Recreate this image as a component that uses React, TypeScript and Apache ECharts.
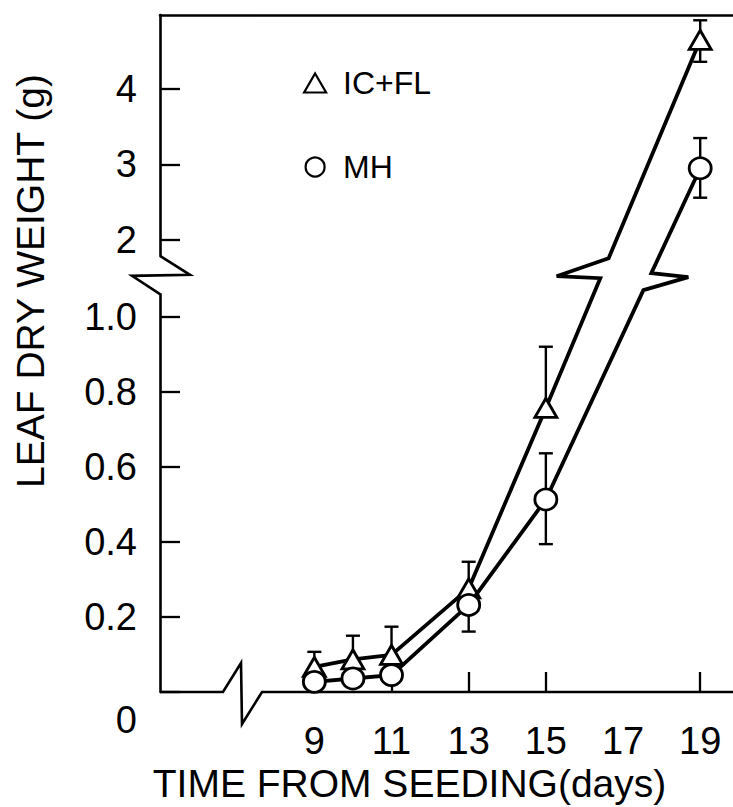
import React, { useEffect, useRef } from 'react';
import * as echarts from 'echarts';

// ---- data ----
const days = [9, 10, 11, 13, 15, 19];
const seriesNames = ['IC+FL', 'MH'];
const icflMean = [0.067, 0.087, 0.099, 0.276, 0.757, 4.65];
const icflUpper = [0.107, 0.15, 0.174, 0.347, 0.92, 4.91];
const icflLower = [null, null, null, null, null, 4.36];
const mhMean = [0.027, 0.036, 0.045, 0.232, 0.513, 2.95];
const mhUpper = [null, null, null, null, 0.636, 3.35];
const mhLower = [null, null, null, 0.161, 0.394, 2.56];
const xLabelValues = [9, 11, 13, 15, 17, 19];
const xTickValues = [9, 11, 13, 15, 19];
const lowerYTicks = [0, 0.2, 0.4, 0.6, 0.8, 1.0];
const upperYTicks = [2, 3, 4];

// ---- axis ranges ----
const X_MIN = 5;
const X_MAX = 19.85;
const LOW_MIN = 0;
const LOW_MAX = 1.06;
const UP_MIN = 1.79;
const UP_MAX = 4.98;

const FONT = '"Liberation Sans", Arial, sans-serif';
const INK = '#000';

type Num = number | null;

function points(mean: number[], lo: number, hi: number) {
  return days.map((d, i) => [d, mean[i]]).filter((p) => p[1] >= lo && p[1] <= hi);
}

function bars(mean: number[], lower: Num[], upper: Num[], lo: number, hi: number) {
  const out: number[][] = [];
  days.forEach((d, i) => {
    if (mean[i] < lo || mean[i] > hi) return;
    if (lower[i] == null && upper[i] == null) return;
    const from = lower[i] == null ? mean[i] : (lower[i] as number);
    const to = upper[i] == null ? mean[i] : (upper[i] as number);
    out.push([d, from, to, lower[i] == null ? 0 : 1, upper[i] == null ? 0 : 1]);
  });
  return out;
}

function errorRender(params: any, api: any) {
  const x = api.value(0);
  const a = api.coord([x, api.value(1)]);
  const b = api.coord([x, api.value(2)]);
  const cw = 7;
  const st = { stroke: INK, lineWidth: 2.4 };
  const children: any[] = [
    { type: 'line', shape: { x1: a[0], y1: a[1], x2: b[0], y2: b[1] }, style: st },
  ];
  if (api.value(3)) children.push({ type: 'line', shape: { x1: a[0] - cw, y1: a[1], x2: a[0] + cw, y2: a[1] }, style: st });
  if (api.value(4)) children.push({ type: 'line', shape: { x1: b[0] - cw, y1: b[1], x2: b[0] + cw, y2: b[1] }, style: st });
  return { type: 'group', children };
}

const tickLabelStyle = { color: INK, fontSize: 38, fontFamily: FONT };

export default function App() {
  const ref = useRef<HTMLDivElement>(null);

  useEffect(() => {
    if (!ref.current) return;
    const chart = echarts.init(ref.current, null, { renderer: 'svg' });

    const lineCommon = (name: string, symbol: string, size: any, z: number) => ({
      name,
      type: 'line',
      symbol,
      symbolSize: size,
      showSymbol: true,
      lineStyle: { color: INK, width: 3.8 },
      itemStyle: { color: '#fff', borderColor: INK, borderWidth: 2.8 },
      z,
      emphasis: { disabled: true },
    });

    const option: any = {
      animation: false,
      backgroundColor: '#fff',
      grid: [
        { left: 160, right: 0, top: 15, height: (UP_MAX - UP_MIN) * 75.5, outerBoundsMode: 'none' },
        { left: 160, right: 0, top: 692 - LOW_MAX * 375.3, height: LOW_MAX * 375.3, outerBoundsMode: 'none' },
      ],
      xAxis: [
        {
          gridIndex: 0, type: 'value', position: 'top', min: X_MIN, max: X_MAX,
          axisLine: { show: true, lineStyle: { color: INK, width: 2.6 } },
          axisTick: { show: false }, axisLabel: { show: false }, splitLine: { show: false },
        },
        {
          gridIndex: 1, type: 'value', min: X_MIN, max: X_MAX,
          axisLine: { show: false },
          axisTick: { show: true, inside: true, length: 20, customValues: xTickValues, lineStyle: { color: INK, width: 2.3 } },
          axisLabel: { show: true, customValues: xLabelValues, margin: 30, formatter: (v: number) => String(v), ...tickLabelStyle },
          splitLine: { show: false },
          name: 'TIME FROM SEEDING(days)',
          nameLocation: 'middle',
          nameGap: 72,
          nameTextStyle: { color: INK, fontSize: 39, fontFamily: FONT, padding: [0, 74, 0, 0] },
        },
      ],
      yAxis: [
        {
          gridIndex: 0, type: 'value', min: UP_MIN, max: UP_MAX,
          axisLine: { show: true, lineStyle: { color: INK, width: 2.6 } },
          axisTick: { show: true, inside: true, length: 20, customValues: upperYTicks, lineStyle: { color: INK, width: 2.3 } },
          axisLabel: { show: true, customValues: upperYTicks, margin: 23, formatter: (v: number) => String(v), ...tickLabelStyle },
          splitLine: { show: false },
        },
        {
          gridIndex: 1, type: 'value', min: LOW_MIN, max: LOW_MAX,
          axisLine: { show: true, lineStyle: { color: INK, width: 2.6 } },
          axisTick: { show: true, inside: true, length: 20, customValues: lowerYTicks, lineStyle: { color: INK, width: 2.3 } },
          axisLabel: {
            show: true, customValues: lowerYTicks, margin: 23,
            formatter: (v: number) => (v === 0 ? '{z|0}' : v.toFixed(1)),
            ...tickLabelStyle,
            rich: { z: { ...tickLabelStyle, padding: [56, 0, 0, 0] } },
          },
          splitLine: { show: false },
        },
      ],
      legend: {
        show: true,
        orient: 'vertical',
        left: 303,
        top: 67,
        padding: 0,
        itemGap: 52,
        itemWidth: 22,
        itemHeight: 19,
        selectedMode: false,
        data: [
          { name: seriesNames[0], icon: 'triangle' },
          { name: seriesNames[1], icon: 'circle' },
        ],
        itemStyle: { color: '#fff', borderColor: INK, borderWidth: 2.2 },
        textStyle: { color: INK, fontSize: 32, lineHeight: 32, fontFamily: FONT, padding: [0, 0, 0, 12] },
      },
      series: [
        {
          type: 'custom', xAxisIndex: 1, yAxisIndex: 1, z: 1, renderItem: errorRender,
          encode: { x: 0, y: [1, 2] },
          data: [...bars(icflMean, icflLower, icflUpper, LOW_MIN, LOW_MAX), ...bars(mhMean, mhLower, mhUpper, LOW_MIN, LOW_MAX)],
        },
        {
          type: 'custom', xAxisIndex: 0, yAxisIndex: 0, z: 1, renderItem: errorRender,
          encode: { x: 0, y: [1, 2] },
          data: [...bars(icflMean, icflLower, icflUpper, UP_MIN, UP_MAX), ...bars(mhMean, mhLower, mhUpper, UP_MIN, UP_MAX)],
        },
        { ...lineCommon(seriesNames[0], 'triangle', [22, 19], 3), xAxisIndex: 1, yAxisIndex: 1, data: points(icflMean, LOW_MIN, LOW_MAX) },
        { ...lineCommon(seriesNames[1], 'circle', [22, 21], 4), xAxisIndex: 1, yAxisIndex: 1, data: points(mhMean, LOW_MIN, LOW_MAX) },
        { ...lineCommon(seriesNames[0], 'triangle', [22, 19], 3), xAxisIndex: 0, yAxisIndex: 0, data: points(icflMean, UP_MIN, UP_MAX) },
        { ...lineCommon(seriesNames[1], 'circle', [22, 21], 4), xAxisIndex: 0, yAxisIndex: 0, data: points(mhMean, UP_MIN, UP_MAX) },
      ],
    };

    chart.setOption(option);

    // ---- decorations computed from the chart's own scales ----
    const px = (grid: number, v: number[]) => chart.convertToPixel({ gridIndex: grid }, v) as number[];
    const stroke = { stroke: INK, lineWidth: 2.6, fill: 'none', lineJoin: 'miter' };
    const graphics: any[] = [];

    // y-axis break
    const yb = px(0, [X_MIN, UP_MIN]);
    const yt = px(1, [X_MIN, LOW_MAX]);
    graphics.push({
      type: 'polyline', z: 1, silent: true,
      shape: { points: [yb, [yb[0] + 30, yb[1] + 19], [yb[0] - 28, yb[1] + 20], yt] },
      style: stroke,
    });

    // x-axis line with break
    const o = px(1, [X_MIN, 0]);
    const e = px(1, [X_MAX, 0]);
    graphics.push({
      type: 'polyline', z: 1, silent: true,
      shape: {
        points: [o, [o[0] + 63, o[1]], [o[0] + 81, o[1] - 29], [o[0] + 82, o[1] + 32], [o[0] + 102, o[1]], e],
      },
      style: stroke,
    });

    // connecting segments across the broken scale, with break marks
    const breakStyles = [
      { lift: 16, gap: 20, adx: -52, ady: 18 },
      { lift: 4, gap: 17, adx: 37, ady: 4 },
    ];
    const lowTopY = yt[1];
    [icflMean, mhMean].forEach((mean, s) => {
      for (let i = 0; i < days.length - 1; i++) {
        if (mean[i] <= LOW_MAX && mean[i + 1] >= UP_MIN && mean[i + 1] > LOW_MAX) {
          const p0 = px(1, [days[i], mean[i]]);
          const p1 = px(0, [days[i + 1], mean[i + 1]]);
          const xAt = (y: number) => p0[0] + ((p1[0] - p0[0]) * (p0[1] - y)) / (p0[1] - p1[1]);
          const b = breakStyles[s];
          const yLo = lowTopY - b.lift;
          const yHi = yLo - b.gap;
          const L = [xAt(yLo), yLo];
          const U = [xAt(yHi), yHi];
          const A = [U[0] + b.adx, U[1] + b.ady];
          graphics.push({
            type: 'polyline', z: 1, silent: true,
            shape: { points: [p0, L, A, U, p1] },
            style: { stroke: INK, lineWidth: 3.8, fill: 'none', lineJoin: 'miter' },
          });
        }
      }
    });

    // y-axis title
    graphics.push({
      type: 'text', z: 5, silent: true,
      x: 30, y: 281, rotation: Math.PI / 2,
      style: { text: 'LEAF DRY WEIGHT (g)', fill: INK, font: `39px ${FONT}`, align: 'center', verticalAlign: 'middle' },
    });

    chart.setOption({ graphic: graphics });

    return () => chart.dispose();
  }, []);

  return <div ref={ref} style={{ position: 'absolute', left: 0, top: 0, width: 733, height: 807 }} />;
}
